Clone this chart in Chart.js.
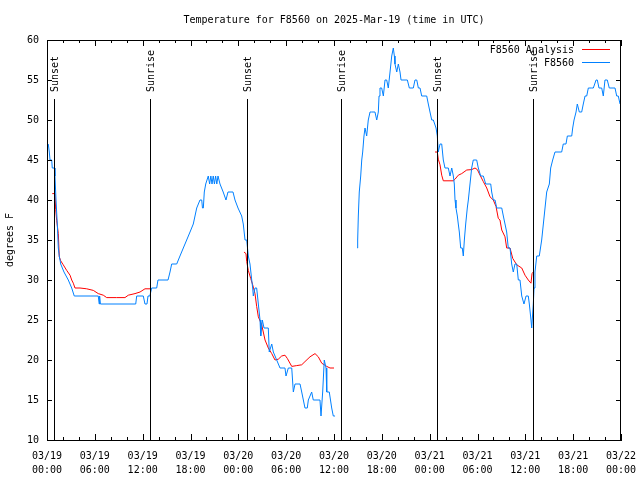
<!DOCTYPE html>
<html>
<head>
<meta charset="utf-8">
<title>Temperature for F8560</title>
<script src="https://cdn.jsdelivr.net/npm/chart.js@4.4.1/dist/chart.umd.min.js"></script>
<style>
  html, body { margin: 0; padding: 0; background: #fff; }
  canvas { display: block; }
</style>
</head>
<body>
<canvas id="chart" width="640" height="480" style="width:640px;height:480px"></canvas>
<script>
// hours since 03/19 00:00 UTC
const obsHours = [
  0.16, 0.29, 0.38, 0.59, 0.66, 0.92, 1.0, 1.13, 1.29, 1.42, 1.54, 1.72, 2.13, 2.67, 3.10, 3.42,
  6.43, 6.55, 6.6, 6.7, 11.13, 11.25, 12.08, 12.29, 12.54, 12.67, 12.9, 13.13, 13.76, 13.92,
  15.18, 15.43, 15.64, 16.27, 16.68, 17.10, 17.52, 17.94, 18.35, 18.78, 19.19, 19.41, 19.5, 19.61,
  19.73, 19.91, 20.23, 20.4, 20.55, 20.7, 20.85, 21.0, 21.15, 21.3, 21.45, 21.7, 22.1, 22.45,
  22.70, 23.33, 23.58, 23.96, 24.42, 24.62, 24.84, 25.05, 25.25, 25.46, 25.68, 25.80, 25.88,
  26.09, 26.30, 26.51, 26.72, 26.81, 27.01, 27.22, 27.76, 27.88, 28.19, 28.39, 28.81, 29.23,
  29.85, 29.98, 30.27, 30.70, 30.90, 31.11, 31.74, 31.95, 32.36, 32.65, 32.78, 33.20, 33.40,
  34.24, 34.37, 34.58, 34.78, 35.00, 35.09, 35.41, 35.71, 35.91, 36.13,
  37.5,
  38.92, 38.97, 39.05, 39.17, 39.35, 39.48, 39.60, 39.76, 39.89, 40.10, 40.30, 40.52, 40.73,
  41.14, 41.36, 41.56, 41.65, 41.77, 41.98, 42.19, 42.40, 42.61, 42.81, 43.03, 43.24, 43.44,
  43.57, 43.65, 43.87, 44.07, 44.28, 44.41, 45.20, 45.45, 45.95, 46.16, 46.38, 46.58, 46.79,
  47.00, 47.63, 47.83, 48.04, 48.26, 48.46, 48.80, 48.96, 49.08, 49.30, 49.51, 49.71, 49.92,
  50.34, 50.55, 50.77, 50.97, 51.09, 51.18, 51.30, 51.47, 51.59, 51.72, 51.89, 52.09, 52.22,
  52.35, 52.52, 52.72, 52.85, 53.06, 53.27, 53.47, 53.90, 54.10, 54.40, 54.73, 55.03, 55.66,
  55.78, 55.98, 56.20, 56.41, 57.04, 57.24, 57.45, 57.66, 57.86, 58.08, 58.29, 58.49, 58.70,
  58.92, 59.12, 59.33, 59.55, 59.83, 60.09, 60.37, 60.50, 60.71, 60.80, 61.00, 61.09, 61.21,
  61.43, 61.75, 62.05, 62.26, 62.47, 62.68, 63.01, 63.18, 63.43, 63.72, 64.56, 64.76, 65.10,
  65.27, 65.82, 65.94, 66.11, 66.36, 66.52, 66.77, 67.07, 67.27, 67.49, 67.70, 67.90, 68.11,
  68.33, 68.53, 68.87, 69.03, 69.24, 69.58, 69.78, 69.99, 70.28, 70.53, 71.25, 71.46, 71.66, 71.88
];
const obsTemps = [
  47, 46, 45, 45, 44, 44, 43, 40, 37, 34, 33, 32, 31, 30, 29, 28,
  28, 27, 28, 27, 27, 28, 28, 27, 27, 28, 28, 29, 29, 30,
  30, 31, 32, 32, 33, 34, 35, 36, 37, 39, 40, 40, 39, 39,
  41, 42, 43, 42, 43, 42, 43, 42, 43, 42, 43, 42, 41, 40,
  41, 41, 40, 39, 38, 37, 35, 35, 33, 32, 30, 29, 28,
  29, 29, 27, 25, 23, 25, 24, 24, 21, 22, 21, 20, 19,
  19, 18, 19, 19, 16, 17, 17, 16, 14, 14, 15, 16, 15,
  15, 13, 16, 20, 19, 16, 16, 14, 13, 13,
  null,
  34, 35, 38, 41, 43, 45, 46, 48, 49, 48, 50, 51, 51,
  51, 50, 51, 53, 54, 54, 53, 55, 55, 54, 56, 58, 59,
  58, 57, 56, 57, 56, 55, 55, 54, 54, 55, 55, 54, 54,
  53, 53, 52, 51, 50, 50, 49, 48, 46, 47, 47, 45, 44,
  44, 43, 44, 43, 42, 40, 39, 38, 37, 36, 34, 34, 33,
  35, 37, 39, 40, 42, 44, 45, 45, 44, 43, 43, 42, 42,
  41, 40, 40, 39, 39, 38, 37, 36, 34, 34, 32, 31, 32,
  32, 30, 30, 28, 27, 28, 28, 27, 25, 24, 27, 29, 31,
  33, 33, 35, 37, 39, 41, 42, 44, 45, 46, 46, 47, 47,
  48, 48, 49, 50, 51, 52, 51, 51, 52, 53, 53, 54, 54,
  54, 54, 55, 55, 54, 54, 53, 55, 55, 54, 54, 53, 53, 52
];

const anaHours = [
  0.66, 1.0, 1.09, 1.22, 1.42, 1.54, 1.72, 2.04, 2.47, 2.89, 3.10, 3.30, 3.51, 4.14, 4.98,
  5.81, 6.43, 7.06, 7.49, 8.74, 9.78, 10.20, 11.04, 11.67, 12.29, 12.92,
  18.0,
  24.71, 24.96, 25.05, 25.25, 25.55, 25.80, 26.09, 26.30, 26.51, 26.93, 27.35, 27.76, 28.19,
  28.60, 29.01, 29.44, 29.85, 30.14, 30.70, 31.32, 31.95, 32.36, 32.99, 33.62, 34.03, 34.46,
  35.09, 35.50, 36.00,
  42.0,
  48.67, 48.96, 49.08, 49.30, 49.51, 49.71, 50.97, 51.18, 51.59, 52.02, 52.65, 53.27, 53.69,
  53.98, 54.32, 54.73, 55.16, 55.57, 55.98, 56.32, 56.61, 56.82, 57.04, 57.45, 57.66, 58.08,
  58.42, 58.92, 59.55, 59.96, 60.37, 60.71, 60.84, 61.00
];
const anaTemps = [
  40.8, 40.8, 38.8, 37.4, 35.8, 32.9, 32.4, 31.9, 31.2, 30.6, 30.0, 29.6, 29.0, 29.0, 28.9,
  28.7, 28.3, 28.1, 27.8, 27.8, 27.8, 28.1, 28.3, 28.5, 28.9, 28.9,
  null,
  33.5, 33.3, 32.3, 31.2, 30.2, 29.4, 28.3, 26.7, 25.4, 24.4, 22.5, 21.5, 20.8,
  20.0, 20.1, 20.5, 20.6, 20.2, 19.2, 19.3, 19.4, 19.8, 20.4, 20.8, 20.4, 19.6,
  19.2, 19.0, 19.0,
  null,
  46.0, 46.0, 45.1, 44.4, 43.1, 42.4, 42.4, 42.6, 43.1, 43.3, 43.75, 43.8, 44.0,
  43.8, 43.1, 42.3, 41.5, 40.4, 40.0, 39.2, 37.7, 37.5, 36.25, 35.4, 34.0, 34.0,
  32.7, 31.9, 31.5, 30.6, 30.0, 29.6, 30.8, 31.0
];

const sunHours = [0.88, 12.98, 25.03, 36.94, 48.92, 60.96];
const sunLabels = ['Sunset', 'Sunrise', 'Sunset', 'Sunrise', 'Sunset', 'Sunrise'];

const xTickDates = ['03/19', '03/19', '03/19', '03/19', '03/20', '03/20', '03/20', '03/20', '03/21', '03/21', '03/21', '03/21', '03/22'];
const xTickTimes = ['00:00', '06:00', '12:00', '18:00', '00:00', '06:00', '12:00', '18:00', '00:00', '06:00', '12:00', '18:00', '00:00'];

const chartTitle = 'Temperature for F8560 on 2025-Mar-19 (time in UTC)';
const FONT = 'DejaVu Sans Mono';

function toPoints(xs, ys) {
  return xs.map((x, i) => ({ x: x, y: ys[i] }));
}

// gnuplot look: inward ticks on all four sides, frame, title, sun markers, legend
const gnuplotDecor = {
  id: 'gnuplotDecor',
  afterDraw(chart) {
    const ctx = chart.ctx;
    const area = chart.chartArea;
    const xs = chart.scales.x;
    const ys = chart.scales.y;
    ctx.save();
    ctx.strokeStyle = '#000';
    ctx.lineWidth = 1;
    ctx.strokeRect(Math.round(area.left) + 0.5, Math.round(area.top) + 0.5,
      Math.round(area.right - area.left) - 1, Math.round(area.bottom - area.top));

    ctx.beginPath();
    xs.ticks.forEach(t => {
      const px = Math.round(xs.getPixelForValue(t.value)) + 0.5;
      const len = t.value % 6 === 0 ? 6 : 3;
      ctx.moveTo(px, area.bottom); ctx.lineTo(px, area.bottom - len);
      ctx.moveTo(px, area.top); ctx.lineTo(px, area.top + len);
    });
    ys.ticks.forEach(t => {
      const py = Math.round(ys.getPixelForValue(t.value)) + 0.5;
      ctx.moveTo(area.left, py); ctx.lineTo(area.left + 5, py);
      ctx.moveTo(area.right, py); ctx.lineTo(area.right - 5, py);
    });
    ctx.stroke();

    // sunrise / sunset lines
    ctx.font = '10px "' + FONT + '"';
    ctx.fillStyle = '#000';
    sunHours.forEach((h, i) => {
      const px = Math.round(xs.getPixelForValue(h)) + 0.5;
      ctx.beginPath();
      ctx.moveTo(px, area.top + 59);
      ctx.lineTo(px, area.bottom);
      ctx.stroke();
      ctx.save();
      ctx.translate(px + 1, area.top + 52);
      ctx.rotate(-Math.PI / 2);
      ctx.textAlign = 'left';
      ctx.textBaseline = 'middle';
      ctx.fillText(sunLabels[i], 0, 0);
      ctx.restore();
    });

    // title centred on the plot area
    ctx.textAlign = 'center';
    ctx.textBaseline = 'middle';
    ctx.fillText(chartTitle, (area.left + area.right) / 2, 20);

    // legend, text then line sample
    const items = [chart.data.datasets[1], chart.data.datasets[0]];
    items.forEach((ds, i) => {
      const y = area.top + 10 + i * 13;
      ctx.textAlign = 'right';
      ctx.fillStyle = '#000';
      ctx.fillText(ds.label, area.right - 47, y);
      ctx.strokeStyle = ds.borderColor;
      ctx.beginPath();
      ctx.moveTo(area.right - 39, Math.round(y) - 0.5);
      ctx.lineTo(area.right - 11, Math.round(y) - 0.5);
      ctx.stroke();
    });
    ctx.restore();
  }
};

const ctx = document.getElementById('chart').getContext('2d');
new Chart(ctx, {
  type: 'line',
  data: {
    datasets: [{
      label: 'F8560',
      data: toPoints(obsHours, obsTemps),
      borderColor: 'rgb(0,128,255)',
      borderWidth: 1,
      pointRadius: 0,
      tension: 0,
      spanGaps: false
    }, {
      label: 'F8560 Analysis',
      data: toPoints(anaHours, anaTemps),
      borderColor: 'rgb(255,0,0)',
      borderWidth: 1,
      pointRadius: 0,
      tension: 0,
      spanGaps: false
    }]
  },
  options: {
    responsive: false,
    animation: false,
    events: [],
    layout: { padding: { top: 40, right: 19, left: 0, bottom: 0 } },
    plugins: {
      legend: { display: false },
      title: { display: false },
      tooltip: { enabled: false }
    },
    scales: {
      x: {
        type: 'linear',
        min: 0,
        max: 72,
        afterFit: scale => {
          scale.height = 40;
          scale.paddingLeft = 0;
          scale.paddingRight = 0;
        },
        grid: { display: false },
        border: { display: true, color: '#000' },
        ticks: {
          stepSize: 2,
          autoSkip: false,
          maxRotation: 0,
          padding: 1,
          color: '#000',
          font: { family: FONT, size: 10, lineHeight: 1.4 },
          callback: v => {
            if (v % 6 !== 0) return '';
            const i = v / 6;
            return [xTickDates[i], xTickTimes[i]];
          }
        }
      },
      y: {
        min: 10,
        max: 60,
        afterFit: scale => { scale.width = 47; },
        grid: { display: false },
        border: { display: true, color: '#000' },
        title: {
          display: true,
          text: 'degrees F',
          color: '#000',
          font: { family: FONT, size: 10 },
          padding: { top: 4, bottom: 0 }
        },
        ticks: {
          stepSize: 5,
          padding: 0,
          color: '#000',
          font: { family: FONT, size: 10 }
        }
      }
    }
  },
  plugins: [gnuplotDecor]
});
</script>
</body>
</html>
